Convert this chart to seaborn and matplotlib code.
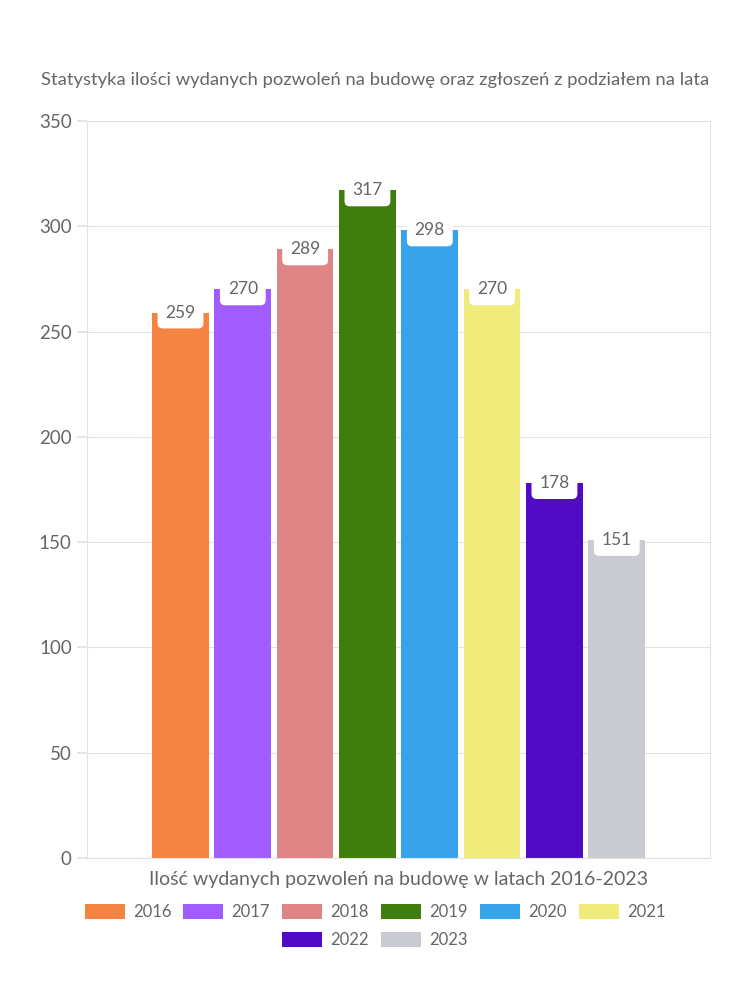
import matplotlib
matplotlib.use("Agg")
import matplotlib.pyplot as plt
import seaborn as sns
import pandas as pd

years = ["2016", "2017", "2018", "2019", "2020", "2021", "2022", "2023"]
values = [259, 270, 289, 317, 298, 270, 178, 151]
colors = ["#F58442", "#A05CFF", "#E08585", "#3F7D0C", "#38A3EB", "#F0EC7C", "#520BC4", "#CACBD0"]
yticks = [0, 50, 100, 150, 200, 250, 300, 350]
title = "Statystyka ilości wydanych pozwoleń na budowę oraz zgłoszeń z podziałem na lata"
xlabel = "Ilość wydanych pozwoleń na budowę w latach 2016-2023"
category = "Ilość"

sns.set_theme(style="white")
plt.rcParams['font.family'] = ['Lato', 'DejaVu Sans']
TXT = "#666666"
LINE = "#e2e2e2"

df = pd.DataFrame({"cat": [category] * len(years), "year": years, "value": values})

fig = plt.figure(figsize=(7.5, 10), dpi=100)
ax = fig.add_axes([0.116, 0.142, 0.831, 0.737])
sns.barplot(data=df, x="cat", y="value", hue="year", palette=colors, width=0.8,
            gap=0.09, ax=ax, legend=False, saturation=1, edgecolor="none")

ax.set_ylim(0, 350)
ax.set_xlim(-0.5, 0.5)
ax.set_yticks(yticks)
ax.set_yticklabels([str(t) for t in yticks], fontsize=13.5, color=TXT)
ax.set_xticks([])
ax.set_ylabel("")
ax.set_xlabel(xlabel, fontsize=14, color=TXT, labelpad=9)
ax.grid(axis="y", color=LINE, linewidth=0.8)
ax.set_axisbelow(True)
for s in ax.spines.values():
    s.set_visible(True)
    s.set_color(LINE)
    s.set_linewidth(0.8)
ax.tick_params(axis="y", length=7, color=LINE, pad=4, left=True)

for bar in ax.patches:
    h = bar.get_height()
    ax.text(bar.get_x() + bar.get_width() / 2, h, f"{int(round(h))}",
            ha="center", va="center", fontsize=12.5, color=TXT,
            bbox=dict(boxstyle="round,pad=0.45,rounding_size=0.3", fc="white", ec="none"))

fig.text(0.5, 0.92, title, ha="center", va="center", fontsize=13.2, color=TXT)

from matplotlib.patches import Patch
handles = [Patch(facecolor=c, edgecolor="none", label=y) for y, c in zip(years, colors)]
common = dict(frameon=False, fontsize=12, handlelength=2.4, handleheight=1.0,
              handletextpad=0.5, columnspacing=0.72, labelcolor=TXT, borderaxespad=0)
leg1 = fig.legend(handles=handles[:6], ncol=6, loc="center", bbox_to_anchor=(0.5, 0.088), **common)
leg2 = fig.legend(handles=handles[6:], ncol=2, loc="center", bbox_to_anchor=(0.5, 0.060), **common)

fig.savefig("out.png", dpi=100, facecolor="white")
